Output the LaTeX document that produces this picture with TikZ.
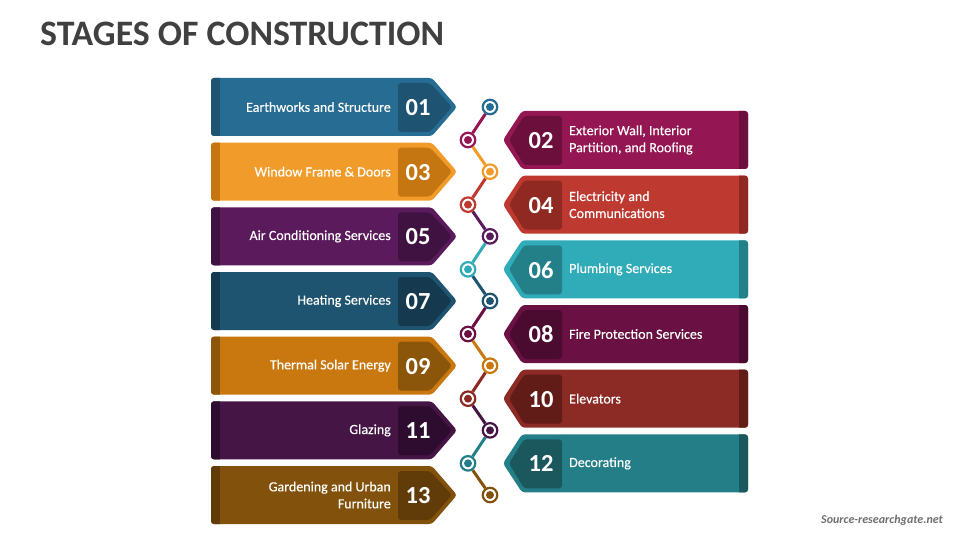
\documentclass[tikz,border=0pt]{standalone}
\usepackage{fontspec}
\setmainfont{Carlito}
\newfontfamily\lblfont[FakeBold=0.35]{Carlito}
\definecolor{titlegray}{HTML}{404040}
\definecolor{srcgray}{HTML}{6E6E6E}
\definecolor{m1}{HTML}{276C93}\definecolor{d1}{HTML}{1E5472}
\definecolor{m2}{HTML}{941652}\definecolor{d2}{HTML}{6D0F3D}
\definecolor{m3}{HTML}{F19C2A}\definecolor{d3}{HTML}{C57610}
\definecolor{m4}{HTML}{BE3A30}\definecolor{d4}{HTML}{8F2921}
\definecolor{m5}{HTML}{5A1A5C}\definecolor{d5}{HTML}{401242}
\definecolor{m6}{HTML}{30ABB8}\definecolor{d6}{HTML}{238089}
\definecolor{m7}{HTML}{1F5470}\definecolor{d7}{HTML}{153A4F}
\definecolor{m8}{HTML}{6A1042}\definecolor{d8}{HTML}{4B0A2F}
\definecolor{m9}{HTML}{C9770F}\definecolor{d9}{HTML}{8B550A}
\definecolor{m10}{HTML}{8C2A25}\definecolor{d10}{HTML}{611C18}
\definecolor{m11}{HTML}{441545}\definecolor{d11}{HTML}{2E0C2F}
\definecolor{m12}{HTML}{237E87}\definecolor{d12}{HTML}{1A585D}
\definecolor{m13}{HTML}{82520C}\definecolor{d13}{HTML}{623C08}
\tikzset{
  numtxt/.style={text=white, font=\bfseries\fontsize{24.5}{24.5}\selectfont, inner sep=0},
  lbl/.style={text=white, font=\lblfont\fontsize{14}{17}\selectfont, inner sep=0},
  stagedot/.style={circle, fill=white, draw=#1, line width=2.2pt, minimum size=14.5pt, inner sep=0},
  link/.style={draw=#1, line width=3pt},
  boxround/.style={rounded corners=3pt}
}
\begin{document}
\begin{tikzpicture}[x=1pt,y=-1pt]
\useasboundingbox (0,0) rectangle (960,540);
\node[anchor=base west, font=\bfseries\fontsize{35.8}{36}\selectfont, text=titlegray, inner sep=0] (title) at (40,46) {STAGES OF CONSTRUCTION};
% left banners
\foreach \n/\c/\k/\txt in {01/1/0/{Earthworks and Structure},03/3/1/{Window Frame \& Doors},05/5/2/{Air Conditioning Services},07/7/3/{Heating Services},09/9/4/{Thermal Solar Energy},11/11/5/{Glazing},13/13/6/{Gardening and Urban\\Furniture}}{
  \pgfmathsetmacro\yy{107+64.67*\k}
  \begin{scope}
    \clip[boxround] (211,{\yy-29}) -- (432,{\yy-29}) -- (457,\yy) -- (432,{\yy+29}) -- (211,{\yy+29}) -- cycle;
    \fill[m\c] (200,{\yy-30}) rectangle (460,{\yy+30});
    \fill[d\c] (200,{\yy-30}) rectangle (220,{\yy+30});
  \end{scope}
  \fill[d\c, boxround] (398,{\yy-24}) -- (430,{\yy-24}) -- (452,\yy) -- (430,{\yy+25}) -- (398,{\yy+25}) -- cycle;
  \node[numtxt] (n\c) at (418,{\yy+0.5}) {\n};
  \node[lbl, anchor=east, align=right] (t\c) at (391,\yy) {\txt};
  \node[stagedot=m\c] (c\c) at (490,\yy) {};
}
% right banners
\foreach \n/\c/\k/\txt in {02/2/0/{Exterior Wall, Interior\\Partition, and Roofing},04/4/1/{Electricity and\\Communications},06/6/2/{Plumbing Services},08/8/3/{Fire Protection Services},10/10/4/{Elevators},12/12/5/{Decorating}}{
  \pgfmathsetmacro\yy{140+64.67*\k}
  \begin{scope}
    \clip[boxround] (503,\yy) -- (522,{\yy-29}) -- (748,{\yy-29}) -- (748,{\yy+29}) -- (522,{\yy+29}) -- cycle;
    \fill[m\c] (500,{\yy-30}) rectangle (760,{\yy+30});
    \fill[d\c] (739,{\yy-30}) rectangle (760,{\yy+30});
  \end{scope}
  \fill[d\c, boxround] (509,\yy) -- (524,{\yy-24}) -- (562,{\yy-24}) -- (562,{\yy+25}) -- (524,{\yy+25}) -- cycle;
  \node[numtxt] (n\c) at (541,{\yy+0.5}) {\n};
  \node[lbl, anchor=west, align=left] (t\c) at (569,\yy) {\txt};
  \node[stagedot=m\c] (c\c) at (468,\yy) {};
}
% connectors
\foreach \a/\b in {1/2,2/3,3/4,4/5,5/6,6/7,7/8,8/9,9/10,10/11,11/12,12/13}{
  \draw[link=m\b] (c\a) -- (c\b);
}
% inner dots
\foreach \c in {1,...,13}{
  \fill[m\c] (c\c.center) circle (4pt);
}
\node[anchor=base east, font=\itshape\bfseries\fontsize{12}{12}\selectfont, text=srcgray, inner sep=0] (src) at (943,523) {Source-researchgate.net};
\end{tikzpicture}
\end{document}
